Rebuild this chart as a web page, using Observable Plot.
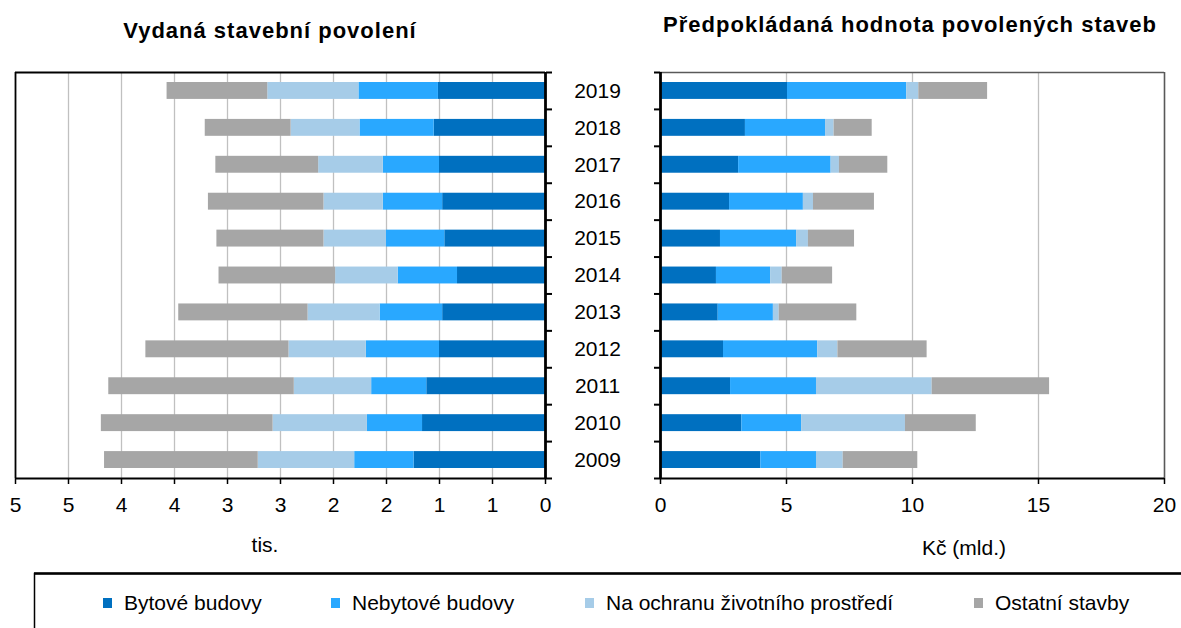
<!DOCTYPE html>
<html><head><meta charset="utf-8">
<script src="https://cdn.jsdelivr.net/npm/d3@7"></script>
<script src="https://cdn.jsdelivr.net/npm/@observablehq/plot@0.6"></script>
<style>
body{margin:0;background:#fff;font-family:"Liberation Sans",Arial,sans-serif;}
#wrap{position:relative;width:1181px;height:628px;overflow:hidden;background:#fff;}
#wrap > svg, #wrap > figure{position:absolute;margin:0;}
</style></head>
<body><div id="wrap"></div>
<script>
// ---- data (years 2009..2019) ----
const years = [2009,2010,2011,2012,2013,2014,2015,2016,2017,2018,2019];
const categories = ["Bytové budovy","Nebytové budovy","Na ochranu životního prostředí","Ostatní stavby"];
const colors = ["#0070C0","#29A8FF","#A6CCE8","#A6A6A6"];

// Vydaná stavební povolení (tis.)
const permitsBytove   = [1.24,1.16,1.12,1.00,0.97,0.83,0.95,0.97,1.00,1.05,1.01];
const permitsNebytove = [0.56,0.52,0.52,0.69,0.59,0.56,0.55,0.56,0.53,0.70,0.75];
const permitsOchrana  = [0.91,0.89,0.73,0.73,0.68,0.59,0.59,0.56,0.61,0.65,0.86];
const permitsOstatni  = [1.45,1.62,1.75,1.35,1.22,1.10,1.01,1.09,0.97,0.81,0.95];

// Předpokládaná hodnota povolených staveb (Kč mld.)
const valueBytove   = [3.98,3.23,2.78,2.50,2.29,2.22,2.38,2.74,3.10,3.37,5.04];
const valueNebytove = [2.21,2.37,3.41,3.74,2.19,2.15,3.02,2.93,3.67,3.18,4.73];
const valueOchrana  = [1.06,4.12,4.59,0.80,0.23,0.46,0.47,0.40,0.33,0.34,0.48];
const valueOstatni  = [2.96,2.81,4.66,3.54,3.08,2.00,1.83,2.42,1.92,1.51,2.73];

// ticks
const leftTickValues = [5,4.5,4,3.5,3,2.5,2,1.5,1,0.5,0];
const leftTickLabels = ["5","5","4","4","3","3","2","2","1","1","0"];
const rightTickValues = [0,5,10,15,20];
const rightTickLabels = ["0","5","10","15","20"];

const titleLeft = "Vydaná stavební povolení";
const titleRight = "Předpokládaná hodnota povolených staveb";
const axisLabelLeft = "tis.";
const axisLabelRight = "Kč (mld.)";

// ---- build tables ----
function longTable(series){
  const out = [];
  series.forEach((vals, c) => vals.forEach((v, i) => out.push({year: years[i], cat: categories[c], value: v})));
  return out;
}
const leftData = longTable([permitsBytove, permitsNebytove, permitsOchrana, permitsOstatni]);
const rightData = longTable([valueBytove, valueNebytove, valueOchrana, valueOstatni]);
const yearEdges = [years[0]-0.5, ...years.map(y => y+0.5)];

const font = "'Liberation Sans', Arial, sans-serif";
const W = 1181, H = 628;
const wrap = document.getElementById("wrap");
const yScale = {domain:[years[0]-0.5, years[years.length-1]+0.5], axis:null};
const colorScale = {domain: categories, range: colors};
const gridStyle = {stroke:"#c0c0c0", strokeWidth:1.3, strokeOpacity:1};

const barOpts = (data) => Plot.rectX(data, Plot.stackX({
  x:"value", y1: d => d.year - 0.5, y2: d => d.year + 0.5, fill:"cat", order: categories,
  insetTop:10, insetBottom:10
}));

const left = Plot.plot({
  width:600, height:470, marginLeft:15, marginRight:55, marginTop:12, marginBottom:52,
  style:{fontFamily:font, fontSize:"21px", color:"#000", background:"transparent", overflow:"visible"},
  x:{domain:[0,5], reverse:true, axis:null},
  y: yScale,
  color: colorScale,
  marks:[
    Plot.ruleX(leftTickValues.filter(v => v > 0 && v < 5), gridStyle),
    barOpts(leftData),
    Plot.ruleY([yearEdges[yearEdges.length-1]], {stroke:"#000", strokeWidth:1.8}),
    Plot.ruleX([5], {stroke:"#000", strokeWidth:1.8}),
    Plot.axisX({ticks:leftTickValues, tickFormat:(d) => leftTickLabels[leftTickValues.indexOf(d)],
      tickSize:6, tickPadding:13, label:null, strokeWidth:1.5, fontSize:21}),
    Plot.ruleY([yearEdges[0]], {stroke:"#000", strokeWidth:2.2}),
    Plot.ruleX([0], {stroke:"#000", strokeWidth:2.8}),
    Plot.axisY({anchor:"right", ticks:yearEdges, tickFormat:() => "", tickSize:6, strokeWidth:2, label:null})
  ]
});
left.style.left = "0px"; left.style.top = "60px";
wrap.appendChild(left);

const right = Plot.plot({
  width:641, height:470, marginLeft:120, marginRight:17, marginTop:12, marginBottom:52,
  style:{fontFamily:font, fontSize:"21px", color:"#000", background:"transparent", overflow:"visible"},
  x:{domain:[0,20], axis:null},
  y: yScale,
  color: colorScale,
  marks:[
    Plot.ruleX(rightTickValues.filter(v => v > 0 && v < 20), gridStyle),
    barOpts(rightData),
    Plot.ruleY([yearEdges[yearEdges.length-1]], {stroke:"#595959", strokeWidth:1.6}),
    Plot.ruleX([20], {stroke:"#595959", strokeWidth:1.6}),
    Plot.axisX({ticks:rightTickValues, tickFormat:(d) => rightTickLabels[rightTickValues.indexOf(d)],
      tickSize:6, tickPadding:13, label:null, strokeWidth:1.5, fontSize:21}),
    Plot.ruleY([yearEdges[0]], {stroke:"#000", strokeWidth:2.2}),
    Plot.ruleX([0], {stroke:"#000", strokeWidth:2.8}),
    Plot.axisY({anchor:"left", ticks:yearEdges, tickFormat:() => "", tickSize:6, strokeWidth:2, label:null}),
    Plot.text(years, {y: d => d, text: d => String(d), frameAnchor:"left", dx:-63, textAnchor:"middle", fontSize:21, fill:"#000"})
  ]
});
right.style.left = "540px"; right.style.top = "60px";
wrap.appendChild(right);

// ---- overlay: titles, axis labels, legend ----
const ns = "http://www.w3.org/2000/svg";
const ov = document.createElementNS(ns, "svg");
ov.setAttribute("width", W); ov.setAttribute("height", H);
ov.style.left = "0px"; ov.style.top = "0px"; ov.style.pointerEvents = "none";
ov.style.fontFamily = font;
function txt(s, x, y, opts = {}){
  const t = document.createElementNS(ns, "text");
  t.textContent = s;
  t.setAttribute("x", x); t.setAttribute("y", y);
  t.setAttribute("font-size", opts.size || 21);
  if (opts.bold) t.setAttribute("font-weight", "bold");
  if (opts.anchor) t.setAttribute("text-anchor", opts.anchor);
  if (opts.ls) t.setAttribute("letter-spacing", opts.ls);
  t.setAttribute("fill", "#000");
  ov.appendChild(t);
}
function rect(x, y, w, h, fill, stroke, sw){
  const r = document.createElementNS(ns, "rect");
  r.setAttribute("x", x); r.setAttribute("y", y); r.setAttribute("width", w); r.setAttribute("height", h);
  r.setAttribute("fill", fill || "none");
  if (stroke){ r.setAttribute("stroke", stroke); r.setAttribute("stroke-width", sw); }
  ov.appendChild(r);
}
txt(titleLeft, 270, 38, {bold:true, size:22, anchor:"middle", ls:1});
txt(titleRight, 910, 32, {bold:true, size:22, anchor:"middle", ls:1});
txt(axisLabelLeft, 265, 552, {anchor:"middle"});
txt(axisLabelRight, 964, 555, {anchor:"middle"});

// legend box
rect(34.5, 573.5, 1200, 100, "#fff", "#000", 1.5);
const line = document.createElementNS(ns, "line");
line.setAttribute("x1", 34); line.setAttribute("x2", 1181); line.setAttribute("y1", 573.5); line.setAttribute("y2", 573.5);
line.setAttribute("stroke", "#000"); line.setAttribute("stroke-width", 2.5);
ov.appendChild(line);
const legendX = [103, 331, 585, 974];
categories.forEach((c, i) => {
  rect(legendX[i], 598, 9, 10, colors[i]);
  txt(c, legendX[i] + 21, 610, {size:21});
});
wrap.appendChild(ov);
</script>
</body></html>
